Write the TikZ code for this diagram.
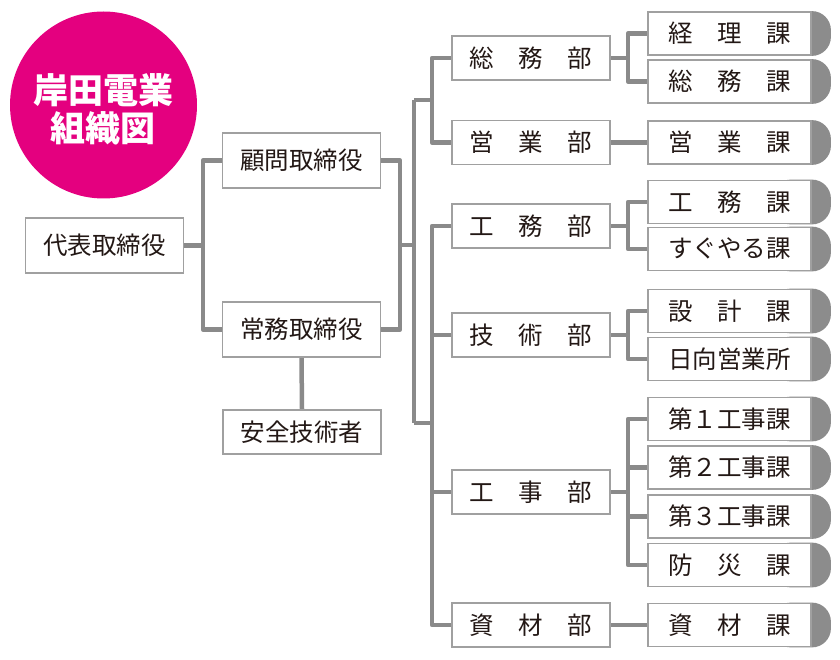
\documentclass[tikz,border=0pt]{standalone}
\usepackage{fontspec}
\newfontfamily\cjk{Noto Sans CJK JP}
\usetikzlibrary{backgrounds}
\definecolor{magent}{HTML}{E4007F}
\definecolor{boxgray}{HTML}{A0A0A0}
\definecolor{linegray}{HTML}{8A8A8A}
\definecolor{capgray}{HTML}{8C8C8C}
\definecolor{txt}{HTML}{231815}
\tikzset{
  box/.style={draw=boxgray, line width=1.8pt, fill=white, text=txt, inner sep=0pt,
    font=\cjk\fontsize{24.5}{28}\selectfont},
  exec/.style={box, minimum width=158pt, minimum height=55pt},
  anz/.style={box, minimum width=158pt, minimum height=44pt},
  dept/.style={box, minimum width=158pt, minimum height=44pt},
  sect/.style={box, minimum width=163pt, minimum height=43pt},
  conn/.style={draw=linegray, line width=4.5pt, line join=round},
}
\begin{document}
\begin{tikzpicture}[x=1pt,y=1pt]
\useasboundingbox (0,0) rectangle (840,-660);
% logo
\node[circle, fill=magent, minimum size=187pt, inner sep=0pt] (logo) at (103.5,-105) {};
\node[text=white, align=center, font=\cjk\bfseries\fontsize{35}{38}\selectfont] (title) at (103,-109) {岸田電業\\組織図};
% executives
\node[exec] (daihyo) at (104.5,-245.5) {代表取締役};
\node[exec] (komon) at (301.5,-160.5) {顧問取締役};
\node[exec] (jomu) at (301.5,-329.5) {常務取締役};
\node[anz] (anzen) at (302,-432) {安全技術者};
% departments
\node[dept] (d1) at (531,-58) {総　務　部};
\node[dept] (d2) at (531,-142.5) {営　業　部};
\node[dept] (d3) at (531,-226) {工　務　部};
\node[dept] (d4) at (531,-335) {技　術　部};
\node[dept] (d5) at (531,-492) {工　事　部};
\node[dept] (d6) at (531,-625) {資　材　部};
% sections
\node[sect] (k1) at (729.5,-33.5) {経　理　課};
\node[sect] (k2) at (729.5,-81.5) {総　務　課};
\node[sect] (k3) at (729.5,-142.5) {営　業　課};
\node[sect] (k4) at (729.5,-202) {工　務　課};
\node[sect] (k5) at (729.5,-249) {すぐやる課};
\node[sect] (k6) at (729.5,-311) {設　計　課};
\node[sect] (k7) at (729.5,-359) {日向営業所};
\node[sect] (k8) at (729.5,-419) {第１工事課};
\node[sect] (k9) at (729.5,-467.5) {第２工事課};
\node[sect] (k10) at (729.5,-516.5) {第３工事課};
\node[sect] (k11) at (729.5,-565) {防　災　課};
\node[sect] (k12) at (729.5,-625) {資　材　課};
% caps
\begin{scope}[on background layer]
\foreach \n in {k1,k2,k3,k4,k5,k6,k7,k8,k9,k10,k11,k12}
  \fill[capgray, rounded corners=19pt] ([xshift=-40pt]\n.north east) rectangle ([xshift=19pt]\n.south east);
\end{scope}
% trunk coordinates
\coordinate (t1) at (203,0);
\coordinate (t2) at (400,0);
\coordinate (t3) at (414,0);
\coordinate (t3b) at (432,0);
\coordinate (t4) at (628,0);
\coordinate (mid) at (0,-245);
\coordinate (ja) at (0,-100);
\coordinate (jb) at (0,-423);
\begin{scope}[on background layer]
% executives
\draw[conn] (daihyo.east) -- (t1 |- daihyo.east);
\draw[conn] (komon.west) -| (t1 |- daihyo.east) |- (jomu.west);
\draw[conn] (jomu.south) -- (anzen.north);
\draw[conn] (komon.east) -| (t2 |- jomu.east) -- (jomu.east);
\draw[conn] (t2 |- mid) -- (t3 |- mid);
% main trunk
\draw[conn] (t3 |- ja) -- (t3 |- jb);
\draw[conn] (t3 |- ja) -- (t3b |- ja);
\draw[conn] (t3 |- jb) -- (t3b |- jb);
% sub-trunk A
\draw[conn] (d1.west) -| (t3b |- d2.west) -- (d2.west);
% sub-trunk B
\draw[conn] (d3.west) -| (t3b |- d6.west) -- (d6.west);
\draw[conn] (d4.west) -- (t3b |- d4.west);
\draw[conn] (d5.west) -- (t3b |- d5.west);
% department to sections
\draw[conn] (d1.east) -- (t4 |- d1.east);
\draw[conn] (k1.west) -| (t4 |- k2.west) -- (k2.west);
\draw[conn] (d2.east) -- (k3.west);
\draw[conn] (d3.east) -- (t4 |- d3.east);
\draw[conn] (k4.west) -| (t4 |- k5.west) -- (k5.west);
\draw[conn] (d4.east) -- (t4 |- d4.east);
\draw[conn] (k6.west) -| (t4 |- k7.west) -- (k7.west);
\draw[conn] (d5.east) -- (t4 |- d5.east);
\draw[conn] (k8.west) -| (t4 |- k11.west) -- (k11.west);
\draw[conn] (k9.west) -- (t4 |- k9.west);
\draw[conn] (k10.west) -- (t4 |- k10.west);
\draw[conn] (d6.east) -- (k12.west);
\end{scope}
\end{tikzpicture}
\end{document}
